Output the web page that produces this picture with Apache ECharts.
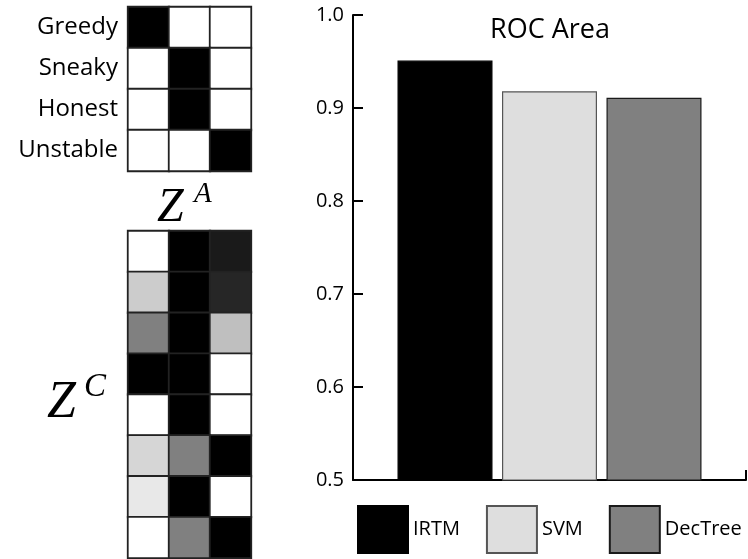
<!DOCTYPE html>
<html><head><meta charset="utf-8">
<script src="https://cdn.jsdelivr.net/npm/echarts@6/dist/echarts.min.js"></script>
<style>html,body{margin:0;padding:0;background:#fff}#c{width:748px;height:559px}</style>
</head><body><div id="c"></div>
<script>
// ---- data ----
const rowLabels = ['Greedy', 'Sneaky', 'Honest', 'Unstable'];
const cols = ['1', '2', '3'];
const zA = [[1, 0, 0], [0, 1, 0], [0, 1, 0], [0, 0, 1]];
const zCRows = ['r1', 'r2', 'r3', 'r4', 'r5', 'r6', 'r7', 'r8'];
const zC = [
  [0, 1, 0.9],
  [0.2, 1, 0.85],
  [0.5, 1, 0.25],
  [1, 1, 0],
  [0, 1, 0],
  [0.16, 0.5, 1],
  [0.09, 1, 0],
  [0, 0.5, 1]
];
const methods = ['IRTM', 'SVM', 'DecTree'];
const rocArea = [0.951, 0.918, 0.911];
const methodColors = ['#000000', '#dedede', '#808080'];
const methodBorders = ['#000000', '#555555', '#1a1a1a'];
const yMin = 0.5, yMax = 1.0, yStep = 0.1;

function toCells(m) {
  const out = [];
  m.forEach((row, r) => row.forEach((v, c) => out.push([c, r, v])));
  return out;
}

const font = '"Open Sans", "Noto Sans", sans-serif';
const chart = echarts.init(document.getElementById('c'));
chart.setOption({
  backgroundColor: '#fff',
  animation: false,
  title: {
    text: 'ROC Area', left: 545, top: 12, textAlign: 'center',
    textStyle: { fontFamily: font, fontSize: 27, fontWeight: 'normal', color: '#000' }
  },
  grid: [
    { left: 128, top: 7, width: 123, height: 164 },
    { left: 128, top: 231, width: 123, height: 327 },
    { left: 353, top: 15, width: 393, height: 465 }
  ],
  xAxis: [
    { type: 'category', gridIndex: 0, data: cols, show: false },
    { type: 'category', gridIndex: 1, data: cols, show: false },
    { type: 'category', gridIndex: 2, data: ['ROC'], boundaryGap: true,
      axisLine: { lineStyle: { color: '#000', width: 2 } },
      axisTick: { show: true, inside: true, length: 10, interval: 0, lineStyle: { color: '#000', width: 2 } },
      axisLabel: { show: false } }
  ],
  yAxis: [
    { type: 'category', gridIndex: 0, data: rowLabels, inverse: true,
      axisLine: { show: false }, axisTick: { show: false },
      axisLabel: { fontFamily: font, fontSize: 24, color: '#000', margin: 10, padding: [0, 0, 8, 0] } },
    { type: 'category', gridIndex: 1, data: zCRows, inverse: true, show: false },
    { type: 'value', gridIndex: 2, min: yMin, max: yMax, interval: yStep,
      splitLine: { show: false },
      axisLine: { show: true, lineStyle: { color: '#000', width: 2 } },
      axisTick: { show: true, inside: true, length: 10, lineStyle: { color: '#000', width: 2 } },
      axisLabel: { fontFamily: font, fontSize: 20, color: '#000', margin: 9,
        formatter: v => v.toFixed(1) } }
  ],
  visualMap: [
    { show: false, type: 'continuous', seriesIndex: 0, min: 0, max: 1, inRange: { color: ['#ffffff', '#000000'] } },
    { show: false, type: 'continuous', seriesIndex: 1, min: 0, max: 1, inRange: { color: ['#ffffff', '#000000'] } }
  ],
  legend: {
    data: methods, left: 357, top: 505, width: 391, itemWidth: 50, itemHeight: 47, itemGap: 26,
    padding: 0,
    icon: 'rect', textStyle: { fontFamily: font, fontSize: 20, color: '#000' }
  },
  series: [
    { type: 'heatmap', xAxisIndex: 0, yAxisIndex: 0, data: toCells(zA),
      itemStyle: { borderColor: '#222', borderWidth: 1.8 } },
    { type: 'heatmap', xAxisIndex: 1, yAxisIndex: 1, data: toCells(zC),
      itemStyle: { borderColor: '#222', borderWidth: 1.8 } },
    ...methods.map((m, i) => ({
      type: 'bar', name: m, xAxisIndex: 2, yAxisIndex: 2, data: [rocArea[i]],
      barWidth: 95, barGap: '10%',
      itemStyle: { color: methodColors[i], borderColor: methodBorders[i], borderWidth: 1.2 }
    }))
  ],
  graphic: [
    { type: 'text', left: 157, top: 184, style: { text: 'Z', font: 'italic 48px "Liberation Serif", serif', fill: '#000' } },
    { type: 'text', left: 194, top: 180, style: { text: 'A', font: 'italic 29px "Liberation Serif", serif', fill: '#000' } },
    { type: 'text', left: 47, top: 377, style: { text: 'Z', font: 'italic 52px "Liberation Serif", serif', fill: '#000' } },
    { type: 'text', left: 84, top: 371, style: { text: 'C', font: 'italic 33px "Liberation Serif", serif', fill: '#000' } }
  ]
});
</script></body></html>
